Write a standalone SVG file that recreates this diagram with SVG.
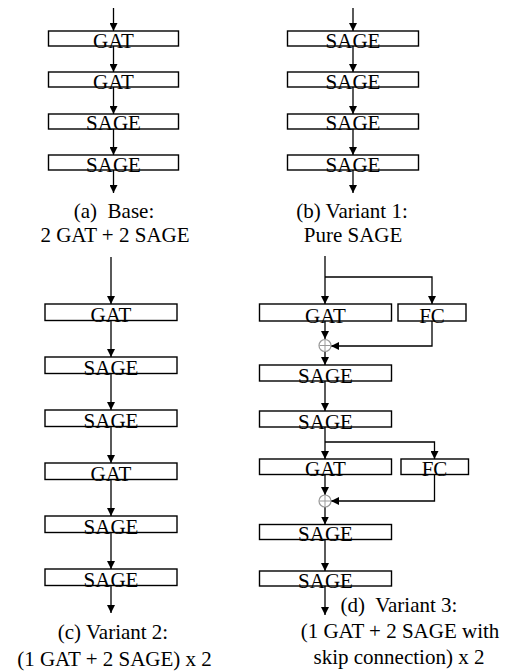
<svg xmlns="http://www.w3.org/2000/svg" width="511" height="671" viewBox="0 0 511 671">
<defs>
  <marker id="ah" markerUnits="userSpaceOnUse" markerWidth="9" markerHeight="8" refX="8" refY="4" orient="auto">
    <path d="M0,0 L8,4 L0,8 z" fill="#000"/>
  </marker>
</defs>

<g id="connectors" fill="none" stroke="#000" stroke-width="1.3">
  <line x1="113.5" y1="8" x2="113.5" y2="31" marker-end="url(#ah)"/>
  <line x1="113.5" y1="46" x2="113.5" y2="72" marker-end="url(#ah)"/>
  <line x1="113.5" y1="87" x2="113.5" y2="114" marker-end="url(#ah)"/>
  <line x1="113.5" y1="129" x2="113.5" y2="155" marker-end="url(#ah)"/>
  <line x1="113.5" y1="170" x2="113.5" y2="193" marker-end="url(#ah)"/>
  <line x1="353" y1="8" x2="353" y2="31" marker-end="url(#ah)"/>
  <line x1="353" y1="46" x2="353" y2="72" marker-end="url(#ah)"/>
  <line x1="353" y1="87" x2="353" y2="114" marker-end="url(#ah)"/>
  <line x1="353" y1="129" x2="353" y2="155" marker-end="url(#ah)"/>
  <line x1="353" y1="170" x2="353" y2="193" marker-end="url(#ah)"/>
  <line x1="111" y1="257" x2="111" y2="304" marker-end="url(#ah)"/>
  <line x1="111" y1="320.5" x2="111" y2="357" marker-end="url(#ah)"/>
  <line x1="111" y1="373.5" x2="111" y2="410" marker-end="url(#ah)"/>
  <line x1="111" y1="426.5" x2="111" y2="463" marker-end="url(#ah)"/>
  <line x1="111" y1="479.5" x2="111" y2="516" marker-end="url(#ah)"/>
  <line x1="111" y1="532.5" x2="111" y2="569" marker-end="url(#ah)"/>
  <line x1="111" y1="585.5" x2="111" y2="613" marker-end="url(#ah)"/>
  <line x1="325" y1="256" x2="325" y2="304" marker-end="url(#ah)"/>
  <polyline points="325,277 432,277 432,304" marker-end="url(#ah)"/>
  <line x1="325" y1="321" x2="325" y2="339" marker-end="url(#ah)"/>
  <polyline points="432,321 432,346 331,346" marker-end="url(#ah)"/>
  <line x1="325" y1="352" x2="325" y2="365" marker-end="url(#ah)"/>
  <line x1="325" y1="381" x2="325" y2="411" marker-end="url(#ah)"/>
  <line x1="325" y1="427" x2="325" y2="459" marker-end="url(#ah)"/>
  <polyline points="325,442 434.5,442 434.5,459" marker-end="url(#ah)"/>
  <line x1="325" y1="474.5" x2="325" y2="495" marker-end="url(#ah)"/>
  <polyline points="434.5,474.5 434.5,501 331,501" marker-end="url(#ah)"/>
  <line x1="325" y1="507" x2="325" y2="524.5" marker-end="url(#ah)"/>
  <line x1="325" y1="539.5" x2="325" y2="571" marker-end="url(#ah)"/>
  <line x1="325" y1="586" x2="325" y2="615" marker-end="url(#ah)"/>
</g>

<g id="a1"><rect fill="#fff" stroke="#000" stroke-width="1.4" x="48.5" y="31" width="130" height="15"/><text font-family="Liberation Serif" font-size="21" text-anchor="middle" x="113.5" y="47.5">GAT</text></g>
<g id="a2"><rect fill="#fff" stroke="#000" stroke-width="1.4" x="48.5" y="72" width="130" height="15"/><text font-family="Liberation Serif" font-size="21" text-anchor="middle" x="113.5" y="88.5">GAT</text></g>
<g id="a3"><rect fill="#fff" stroke="#000" stroke-width="1.4" x="48.5" y="114" width="130" height="15"/><text font-family="Liberation Serif" font-size="21" text-anchor="middle" x="113.5" y="130">SAGE</text></g>
<g id="a4"><rect fill="#fff" stroke="#000" stroke-width="1.4" x="48.5" y="155" width="130" height="15"/><text font-family="Liberation Serif" font-size="21" text-anchor="middle" x="113.5" y="171.5">SAGE</text></g>
<g id="capA"><text font-family="Liberation Serif" font-size="21" text-anchor="middle" xml:space="preserve" x="114" y="218">(a)  Base:</text><text font-family="Liberation Serif" font-size="21" text-anchor="middle" x="115" y="242">2 GAT + 2 SAGE</text></g>

<g id="b1"><rect fill="#fff" stroke="#000" stroke-width="1.4" x="287.5" y="31" width="131" height="15"/><text font-family="Liberation Serif" font-size="21" text-anchor="middle" x="353" y="47.5">SAGE</text></g>
<g id="b2"><rect fill="#fff" stroke="#000" stroke-width="1.4" x="287.5" y="72" width="131" height="15"/><text font-family="Liberation Serif" font-size="21" text-anchor="middle" x="353" y="88.5">SAGE</text></g>
<g id="b3"><rect fill="#fff" stroke="#000" stroke-width="1.4" x="287.5" y="114" width="131" height="15"/><text font-family="Liberation Serif" font-size="21" text-anchor="middle" x="353" y="130">SAGE</text></g>
<g id="b4"><rect fill="#fff" stroke="#000" stroke-width="1.4" x="287.5" y="155" width="131" height="15"/><text font-family="Liberation Serif" font-size="21" text-anchor="middle" x="353" y="171.5">SAGE</text></g>
<g id="capB"><text font-family="Liberation Serif" font-size="21" text-anchor="middle" x="352" y="218">(b) Variant 1:</text><text font-family="Liberation Serif" font-size="21" text-anchor="middle" x="353" y="242">Pure SAGE</text></g>

<g id="c1"><rect fill="#fff" stroke="#000" stroke-width="1.4" x="45" y="304" width="132" height="16.5"/></g>
<g id="c2"><rect fill="#fff" stroke="#000" stroke-width="1.4" x="45" y="357" width="132" height="16.5"/></g>
<g id="c3"><rect fill="#fff" stroke="#000" stroke-width="1.4" x="45" y="410" width="132" height="16.5"/></g>
<g id="c4"><rect fill="#fff" stroke="#000" stroke-width="1.4" x="45" y="463" width="132" height="16.5"/></g>
<g id="c5"><rect fill="#fff" stroke="#000" stroke-width="1.4" x="45" y="516" width="132" height="16.5"/></g>
<g id="c6"><rect fill="#fff" stroke="#000" stroke-width="1.4" x="45" y="569" width="132" height="16.5"/></g>

<g id="d1"><rect fill="#fff" stroke="#000" stroke-width="1.4" x="259.5" y="304" width="132" height="17"/></g>
<g id="dfc1"><rect fill="#fff" stroke="#000" stroke-width="1.4" x="398" y="304" width="68" height="17"/></g>
<g id="dsum1" stroke="#999"><circle fill="#fff" stroke-width="1.2" cx="325" cy="345.5" r="6"/><line stroke-width="1" x1="325" y1="340" x2="325" y2="351"/><line stroke-width="1" x1="319.5" y1="345.5" x2="330.5" y2="345.5"/></g>
<g id="d2"><rect fill="#fff" stroke="#000" stroke-width="1.4" x="259.5" y="365" width="132" height="16"/></g>
<g id="d3"><rect fill="#fff" stroke="#000" stroke-width="1.4" x="259.5" y="411" width="132" height="16"/></g>
<g id="d4"><rect fill="#fff" stroke="#000" stroke-width="1.4" x="259.5" y="459" width="132" height="15.5"/></g>
<g id="dfc2"><rect fill="#fff" stroke="#000" stroke-width="1.4" x="401" y="459" width="67.5" height="15.5"/></g>
<g id="dsum2" stroke="#999"><circle fill="#fff" stroke-width="1.2" cx="325" cy="501" r="6"/><line stroke-width="1" x1="325" y1="495.5" x2="325" y2="506.5"/><line stroke-width="1" x1="319.5" y1="501" x2="330.5" y2="501"/></g>
<g id="d5"><rect fill="#fff" stroke="#000" stroke-width="1.4" x="259.5" y="524.5" width="132" height="15"/></g>
<g id="d6"><rect fill="#fff" stroke="#000" stroke-width="1.4" x="259.5" y="571" width="132" height="15"/></g>

<text font-family="Liberation Serif" font-size="21" text-anchor="middle" x="111" y="322">GAT</text>
<text font-family="Liberation Serif" font-size="21" text-anchor="middle" x="111" y="375">SAGE</text>
<text font-family="Liberation Serif" font-size="21" text-anchor="middle" x="111" y="428">SAGE</text>
<text font-family="Liberation Serif" font-size="21" text-anchor="middle" x="111" y="481">GAT</text>
<text font-family="Liberation Serif" font-size="21" text-anchor="middle" x="111" y="534">SAGE</text>
<text font-family="Liberation Serif" font-size="21" text-anchor="middle" x="111" y="587">SAGE</text>
<text font-family="Liberation Serif" font-size="21" text-anchor="middle" x="113" y="639">(c) Variant 2:</text>
<text font-family="Liberation Serif" font-size="21" text-anchor="middle" x="114.5" y="666">(1 GAT + 2 SAGE) x 2</text>
<text font-family="Liberation Serif" font-size="21" text-anchor="middle" x="325.5" y="322.5">GAT</text>
<text font-family="Liberation Serif" font-size="21" text-anchor="middle" x="432" y="322.5">FC</text>
<text font-family="Liberation Serif" font-size="21" text-anchor="middle" x="325.5" y="382.5">SAGE</text>
<text font-family="Liberation Serif" font-size="21" text-anchor="middle" x="325.5" y="428.5">SAGE</text>
<text font-family="Liberation Serif" font-size="21" text-anchor="middle" x="325.5" y="476">GAT</text>
<text font-family="Liberation Serif" font-size="21" text-anchor="middle" x="434.5" y="476">FC</text>
<text font-family="Liberation Serif" font-size="21" text-anchor="middle" x="325.5" y="541">SAGE</text>
<text font-family="Liberation Serif" font-size="21" text-anchor="middle" x="325.5" y="587.5">SAGE</text>
<text font-family="Liberation Serif" font-size="21" text-anchor="middle" xml:space="preserve" x="399" y="612">(d)  Variant 3:</text>
<text font-family="Liberation Serif" font-size="21" text-anchor="middle" x="400" y="638">(1 GAT + 2 SAGE with</text>
<text font-family="Liberation Serif" font-size="21" text-anchor="middle" x="399" y="664">skip connection) x 2</text>
</svg>
